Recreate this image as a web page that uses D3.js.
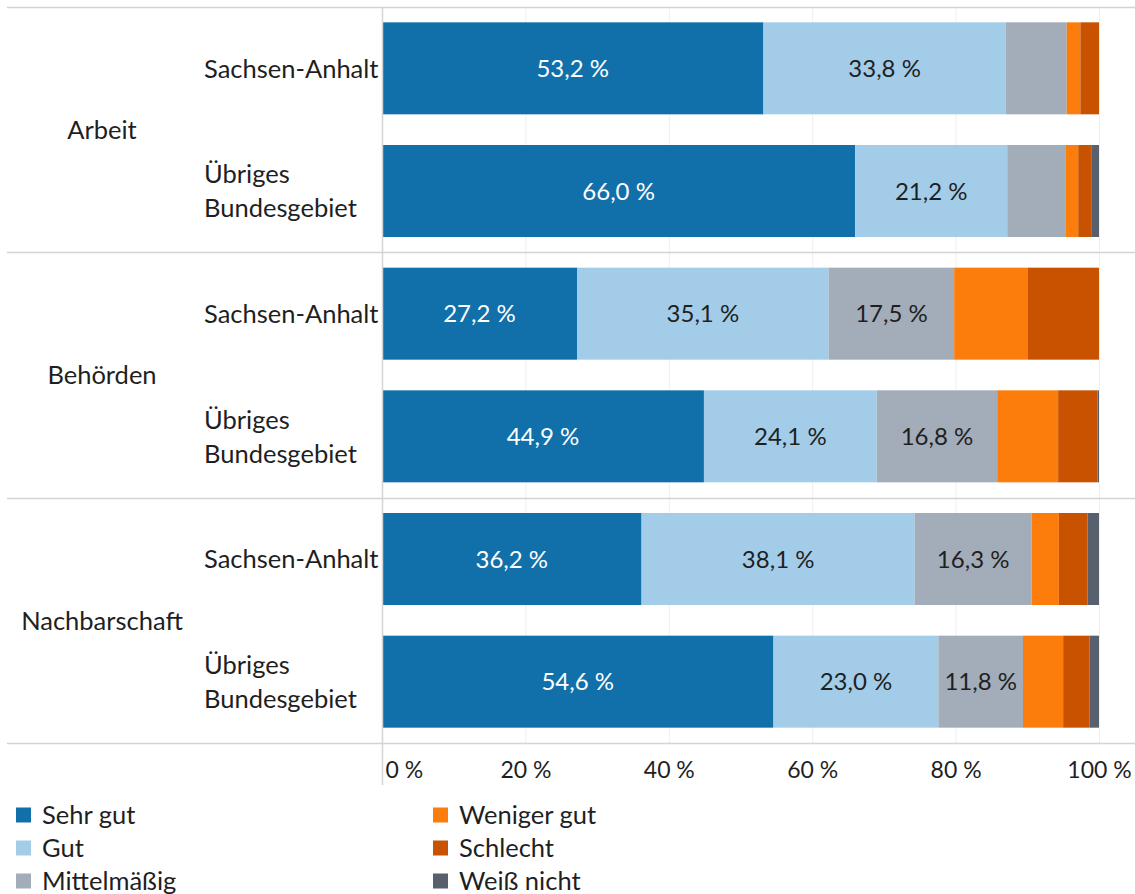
<!DOCTYPE html>
<html>
<head>
<meta charset="utf-8">
<script src="https://cdn.jsdelivr.net/npm/d3@7"></script>
<style>
  html, body { margin: 0; padding: 0; background: #fff; }
  svg { display: block; }
  text { font-family: Lato, "Open Sans", sans-serif; }
</style>
</head>
<body>
<svg id="chart" width="1135" height="894"></svg>
<script>
// Ratings by area of life, Sachsen-Anhalt vs. the rest of Germany (shares in %)
const groups = ["Arbeit", "Behörden", "Nachbarschaft"];
const regions = ["Sachsen-Anhalt", "Übriges Bundesgebiet"];
const ratings = ["Sehr gut", "Gut", "Mittelmäßig", "Weniger gut", "Schlecht", "Weiß nicht"];
const ratingColors = ["#1170aa", "#a3cce9", "#a3acb9", "#fc7d0b", "#c85200", "#57606c"];

// one array per rating, in row order: Arbeit SA, Arbeit ÜB, Behörden SA, Behörden ÜB, Nachbarschaft SA, Nachbarschaft ÜB
const sehrGut       = [53.2, 66.0, 27.2, 44.9, 36.2, 54.6];
const gut           = [33.8, 21.2, 35.1, 24.1, 38.1, 23.0];
const mittelmaessig = [8.5, 8.1, 17.5, 16.8, 16.3, 11.8];
const wenigerGut    = [1.9, 1.8, 10.3, 8.5, 3.8, 5.6];
const schlecht      = [2.6, 1.9, 9.9, 5.5, 4.0, 3.7];
const weissNicht    = [0.0, 1.0, 0.0, 0.2, 1.6, 1.3];

const tickValues = [0, 20, 40, 60, 80, 100];

const series = [sehrGut, gut, mittelmaessig, wenigerGut, schlecht, weissNicht];

const rows = [];
groups.forEach((g, gi) => regions.forEach((r, ri) => rows.push({ group: g, region: r, idx: gi * 2 + ri })));

const svg = d3.select("#chart");
const textColor = "#1f1f1f";

const plotTop = 7, plotBottom = 743, plotLeft = 382, plotRight = 1099;
const x = d3.scaleLinear().domain([0, 100]).range([plotLeft, plotRight]);
const yRow = d3.scaleBand().domain(rows.map(d => d.idx)).range([plotTop, plotBottom]).paddingInner(0.25).paddingOuter(0.125);
const yGroup = d3.scaleBand().domain(groups).range([plotTop, plotBottom]);

// gridlines
svg.append("g")
  .selectAll("line")
  .data(tickValues.slice(1))
  .join("line")
  .attr("x1", d => x(d) + 0.5).attr("x2", d => x(d) + 0.5)
  .attr("y1", plotTop).attr("y2", plotBottom)
  .attr("stroke", "#efefef").attr("stroke-width", 1);

// group separators
svg.append("g")
  .selectAll("line")
  .data(groups.map(g => yGroup(g)).concat([plotBottom]))
  .join("line")
  .attr("x1", 7).attr("x2", 1135)
  .attr("y1", d => Math.round(d) + 0.5).attr("y2", d => Math.round(d) + 0.5)
  .attr("stroke", "#d4d4d4").attr("stroke-width", 1.5);

// stacked segments
const stackData = rows.map(r => {
  let acc = 0;
  return ratings.map((k, si) => {
    const v = series[si][r.idx];
    const seg = { row: r.idx, si, v, x0: acc, x1: acc + v };
    acc += v;
    return seg;
  });
}).flat();

svg.append("g")
  .selectAll("rect")
  .data(stackData.filter(d => d.v > 0))
  .join("rect")
  .attr("x", d => x(d.x0))
  .attr("width", d => x(d.x1) - x(d.x0))
  .attr("y", d => yRow(d.row))
  .attr("height", yRow.bandwidth())
  .attr("fill", d => ratingColors[d.si]);

// value labels inside the larger segments
const fmt = v => v.toFixed(1).replace(".", ",") + " %";
svg.append("g")
  .selectAll("text")
  .data(stackData.filter(d => d.si < 3 && d.v >= 11))
  .join("text")
  .attr("x", d => x((d.x0 + d.x1) / 2))
  .attr("y", d => yRow(d.row) + yRow.bandwidth() / 2)
  .attr("dy", "0.36em")
  .attr("text-anchor", "middle")
  .attr("font-size", 24)
  .attr("fill", d => d.si === 0 ? "#ffffff" : textColor)
  .text(d => fmt(d.v));

// axis line
svg.append("line")
  .attr("x1", plotLeft + 0.5).attr("x2", plotLeft + 0.5)
  .attr("y1", plotTop).attr("y2", 785)
  .attr("stroke", "#d4d4d4").attr("stroke-width", 1.5);

// x axis tick labels
const axis = d3.axisBottom(x).tickValues(tickValues).tickSize(0).tickPadding(0).tickFormat(d => d + " %");
const axisG = svg.append("g").attr("transform", "translate(0, 770)").call(axis);
axisG.select(".domain").remove();
axisG.selectAll("text")
  .attr("font-family", "Lato, 'Open Sans', sans-serif")
  .attr("font-size", 23)
  .attr("fill", textColor)
  .attr("dy", "0.36em")
  .attr("y", 0);
axisG.selectAll(".tick").filter(d => d === 0).select("text")
  .attr("text-anchor", "start").attr("x", 3);

// region labels
const regionG = svg.append("g");
rows.forEach(r => {
  const cy = yRow(r.idx) + yRow.bandwidth() / 2;
  const words = r.region === "Sachsen-Anhalt" ? [r.region] : r.region.split(" ");
  const t = regionG.append("text")
    .attr("x", 204).attr("font-size", 25.5).attr("fill", textColor);
  words.forEach((w, i) => {
    t.append("tspan")
      .attr("x", 204)
      .attr("y", cy + (i - (words.length - 1) / 2) * 34)
      .attr("dy", "0.36em")
      .text(w);
  });
});

// group labels
svg.append("g")
  .selectAll("text")
  .data(groups)
  .join("text")
  .attr("x", 102)
  .attr("y", d => yGroup(d) + yGroup.bandwidth() / 2)
  .attr("dy", "0.36em")
  .attr("text-anchor", "middle")
  .attr("font-size", 25.5)
  .attr("fill", textColor)
  .text(d => d);

// legend: two columns of three
const legend = svg.append("g");
ratings.forEach((k, i) => {
  const col = Math.floor(i / 3), row = i % 3;
  const lx = col === 0 ? 16 : 433;
  const ly = 815 + row * 33;
  legend.append("rect")
    .attr("x", lx).attr("y", ly - 7.5)
    .attr("width", 15).attr("height", 15)
    .attr("fill", ratingColors[i]);
  legend.append("text")
    .attr("x", lx + 26).attr("y", ly)
    .attr("dy", "0.36em")
    .attr("font-size", 25.5)
    .attr("fill", textColor)
    .text(k);
});
</script>
</body>
</html>
